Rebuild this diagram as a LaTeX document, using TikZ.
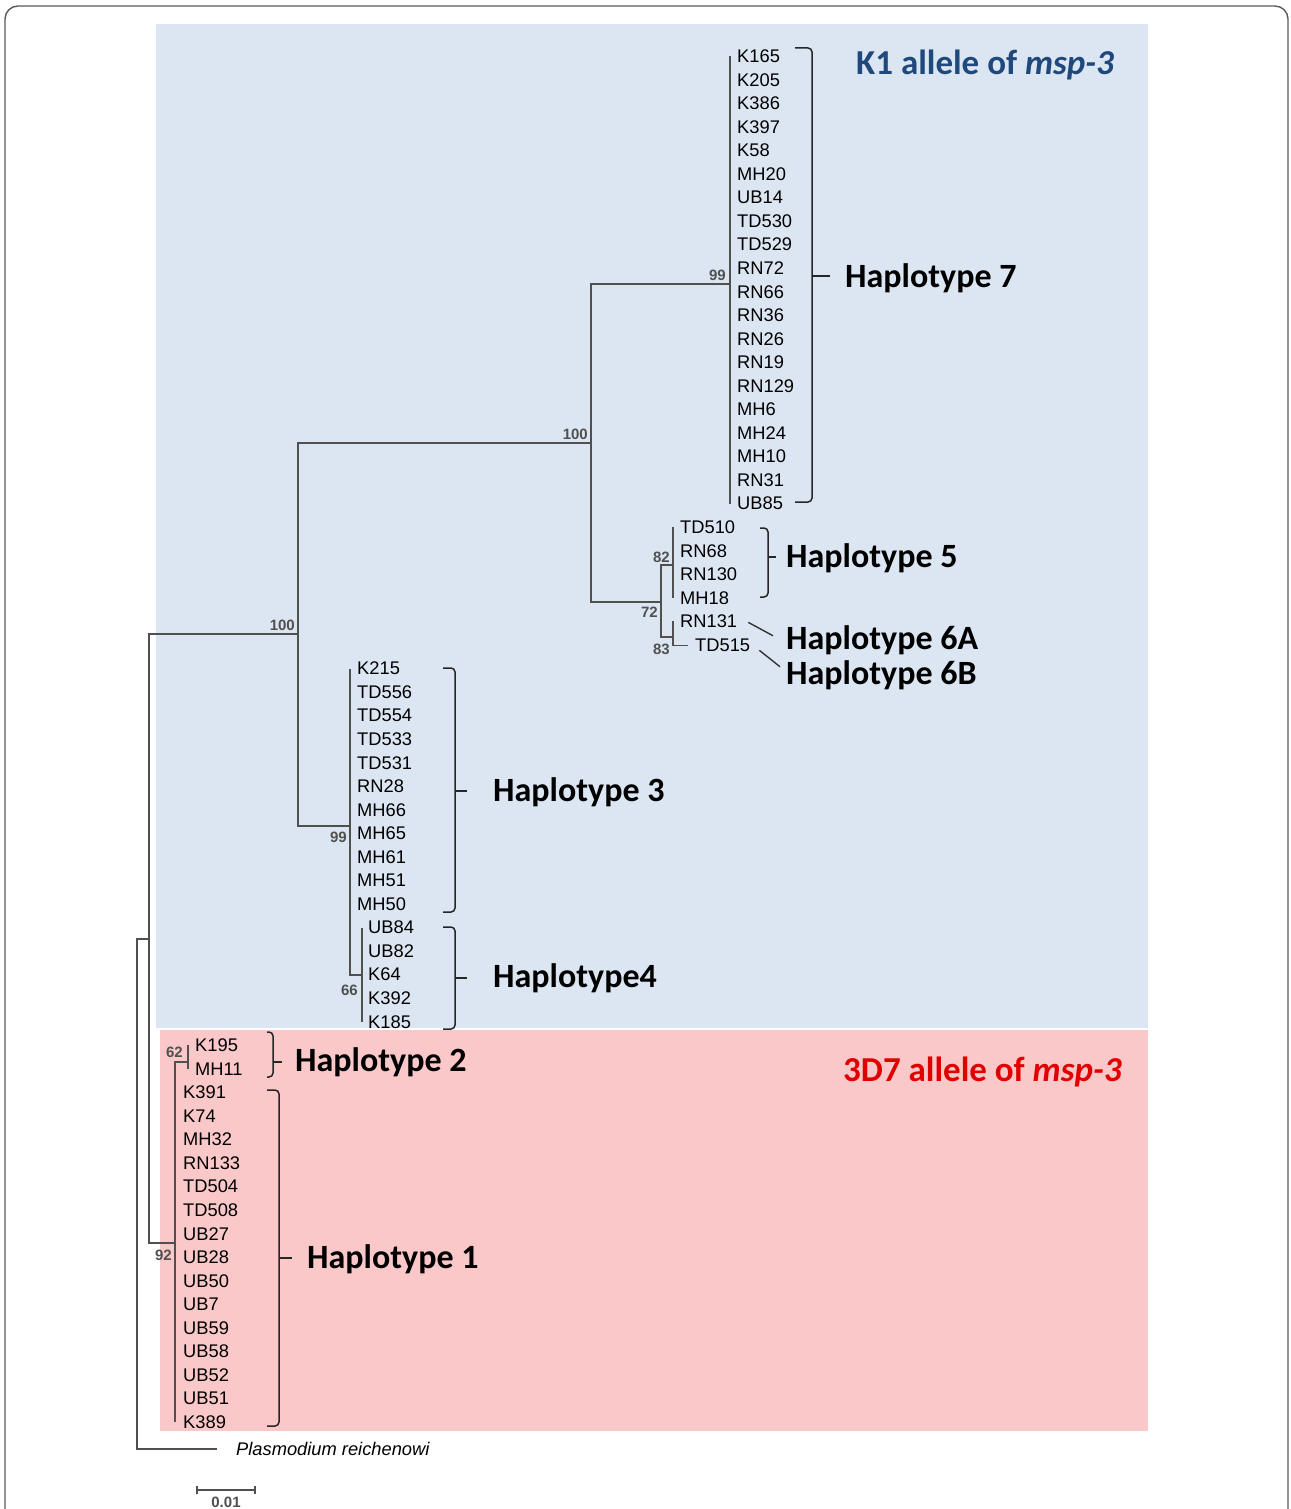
\documentclass[tikz,border=0pt]{standalone}
\usepackage{fontspec}
\setmainfont{Liberation Sans}
\newfontfamily\capfont{Carlito}
\usetikzlibrary{positioning,calc}
\definecolor{BgBlue}{HTML}{DCE6F2}
\definecolor{BgPink}{HTML}{FAC8C8}
\definecolor{TitleBlue}{HTML}{1F497D}
\definecolor{TitleRed}{HTML}{E00000}
\definecolor{TreeGray}{HTML}{505050}
\tikzset{
  % Leaf labels
  leaf/.style={anchor=base west,inner sep=0pt,
               font=\fontsize{18.3}{20}\selectfont},
  outg/.style={leaf,font=\fontsize{18.3}{20}\selectfont\itshape},
  % Bootstrap values
  bs/.style={inner sep=0pt,text=TreeGray,
             font=\fontsize{15}{16}\selectfont\bfseries},
  % Haplotype labels
  hap/.style={anchor=base west,inner sep=0pt,
              font=\fontsize{34}{36}\selectfont\capfont\bfseries},
  allele/.style={hap,font=\fontsize{35}{37}\selectfont\capfont\bfseries},
  % Branches and brackets
  br/.style={draw=TreeGray,line width=1.4pt},
  brk/.style={draw=black!85,line width=1.5pt,rounded corners=4pt},
  frame/.style={draw=black!65,line width=1.4pt,rounded corners=13pt}
}

\begin{document}
\begin{tikzpicture}[x=1pt,y=-1pt]
  \useasboundingbox (0,0) rectangle (1290,1509);
  \draw[frame] (5,1509) -- (5,6) -- (1288,6) -- (1288,1509);
  \fill[BgBlue] (156,24) rectangle (1148,1028);
  \fill[BgPink] (160,1030) rectangle (1148,1431);

  % leaves
  \foreach \nm [count=\i from 0] in {K165,K205,K386,K397,K58,MH20,UB14,TD530,TD529,RN72,
      RN66,RN36,RN26,RN19,RN129,MH6,MH24,MH10,RN31,UB85}
    \node[leaf] (\nm) at (737,62.5+23.55*\i) {\nm};
  \foreach \nm [count=\i from 20] in {TD510,RN68,RN130,MH18,RN131}
    \node[leaf] (\nm) at (680,62.5+23.55*\i) {\nm};
  \node[leaf] (TD515) at (695,651.5) {TD515};
  \foreach \nm [count=\i from 26] in {K215,TD556,TD554,TD533,TD531,RN28,MH66,MH65,MH61,MH51,MH50}
    \node[leaf] (\nm) at (357,62.5+23.55*\i) {\nm};
  \foreach \nm [count=\i from 37] in {UB84,UB82,K64,K392,K185}
    \node[leaf] (\nm) at (368,62.5+23.55*\i) {\nm};
  \foreach \nm [count=\i from 42] in {K195,MH11}
    \node[leaf] (\nm) at (195,62.5+23.55*\i) {\nm};
  \foreach \nm [count=\i from 44] in {K391,K74,MH32,RN133,TD504,TD508,UB27,UB28,UB50,UB7,
      UB59,UB58,UB52,UB51,K389}
    \node[leaf] (\nm) at (183,62.5+23.55*\i) {\nm};
  \node[outg] (PR) at (236,1455.5) {Plasmodium reichenowi};

  % internal nodes
  \coordinate (root)  at (137,939);
  \coordinate (in)    at (149,939);
  \coordinate (n100a) at (298,634);
  \coordinate (n100b) at (591,443);
  \coordinate (n99a)  at (730,284);
  \coordinate (n72)   at (661,602);
  \coordinate (n82)   at (673,565);
  \coordinate (n83)   at (673,637);
  \coordinate (n99b)  at (350,826);
  \coordinate (n66)   at (362,975);
  \coordinate (n92)   at (175,1243);
  \coordinate (n62)   at (188,1062);

  % branches
  \draw[br] (n99a) -| (n100b) |- (n72);
  \draw[br] (n99a |- K165.west) -- (n99a |- UB85.west);
  \draw[br] (n82) -| (n72) |- (n83);
  \draw[br] (n82 |- TD510.west) -- (n82 |- MH18.west);
  \draw[br] (n83 |- RN131.west) -- (n83 |- TD515.west) -- ([xshift=-7pt]TD515.west);
  \draw[br] (n100b) -| (n100a) |- (n99b);
  \draw[br] (n99b |- K215.west) -- (n99b |- n66) -- (n66);
  \draw[br] (n66 |- UB84.west) -- (n66 |- K185.west);
  \draw[br] (n100a) -| (in) |- (n92);
  \draw[br] (in) -- (root) |- ([shift={(-19pt,6.5pt)}]PR.base west);
  \draw[br] (n62) -- (n92 |- n62) -- (n92 |- K389.west);
  \draw[br] (n62 |- K195.west) -- (n62 |- MH11.west);

  % bootstrap values
  \node[bs,anchor=south east] (b1)  at (588,440)  {100};
  \node[bs,anchor=south east] (b2)  at (726,281)  {99};
  \node[bs,anchor=south east] (b3)  at (670,563)  {82};
  \node[bs,anchor=north east] (b4)  at (658,607)  {72};
  \node[bs,anchor=east]       (b5)  at (670,649)  {83};
  \node[bs,anchor=south east] (b6)  at (295,631)  {100};
  \node[bs,anchor=north east] (b7)  at (347,832)  {99};
  \node[bs,anchor=north east] (b8)  at (358,985)  {66};
  \node[bs,anchor=north east] (b9)  at (172,1250) {92};
  \node[bs,anchor=south east] (b10) at (183,1058) {62};

  % haplotype labels
  \node[hap] (hap7)  at (845,287)  {Haplotype 7};
  \node[hap] (hap5)  at (786,567)  {Haplotype 5};
  \node[hap] (hap6a) at (786,649)  {Haplotype 6A};
  \node[hap] (hap6b) at (786,684)  {Haplotype 6B};
  \node[hap] (hap3)  at (493,801)  {Haplotype 3};
  \node[hap] (hap4)  at (493,987)  {Haplotype4};
  \node[hap] (hap2)  at (295,1071) {Haplotype 2};
  \node[hap] (hap1)  at (307,1268) {Haplotype 1};

  % brackets
  \draw[brk] (795,48) -- (812,48) -- (812,502) -- (795,502);
  \draw[brk] (812,276) -- ([xshift=-15pt]hap7.west |- 0,276);
  \draw[brk] (760,528) -- (768,528) -- (768,597) -- (760,597);
  \draw[brk] (768,557) -- ([xshift=-10pt]hap5.west |- 0,557);
  \draw[br,draw=black!80] ([shift={(11pt,-1pt)}]RN131.east) -- ([shift={(-13pt,4pt)}]hap6a.west);
  \draw[br,draw=black!80] ([shift={(9pt,-5pt)}]TD515.east) -- ([shift={(-6pt,8pt)}]hap6b.west);
  \draw[brk] (443,668) -- (455,668) -- (455,912) -- (443,912);
  \draw[brk] (455,791) -- ([xshift=-26pt]hap3.west |- 0,791);
  \draw[brk] (443,927) -- (455,927) -- (455,1029) -- (443,1029);
  \draw[brk] (455,978) -- ([xshift=-26pt]hap4.west |- 0,978);
  \draw[brk] (267,1032) -- (273,1032) -- (273,1077) -- (267,1077);
  \draw[brk] (273,1062) -- ([xshift=-13pt]hap2.west |- 0,1062);
  \draw[brk] (267,1090) -- (279,1090) -- (279,1426) -- (267,1426);
  \draw[brk] (279,1258) -- ([xshift=-15pt]hap1.west |- 0,1258);

  % allele titles
  \node[allele,text=TitleBlue] (k1)  at (856,75)   {K1 allele of \textit{msp-3}};
  \node[allele,text=TitleRed]  (d37) at (843,1081) {3D7 allele of \textit{msp-3}};

  % scale bar
  \coordinate (sb1) at (197,1490);
  \coordinate (sb2) at (255,1490);
  \draw[br] (sb1) -- (sb2);
  \draw[br] ([yshift=4pt]sb1) -- ([yshift=-4pt]sb1);
  \draw[br] ([yshift=4pt]sb2) -- ([yshift=-4pt]sb2);
  \node[bs,anchor=north] (sbl) at (226,1497) {0.01};
\end{tikzpicture}
\end{document}
